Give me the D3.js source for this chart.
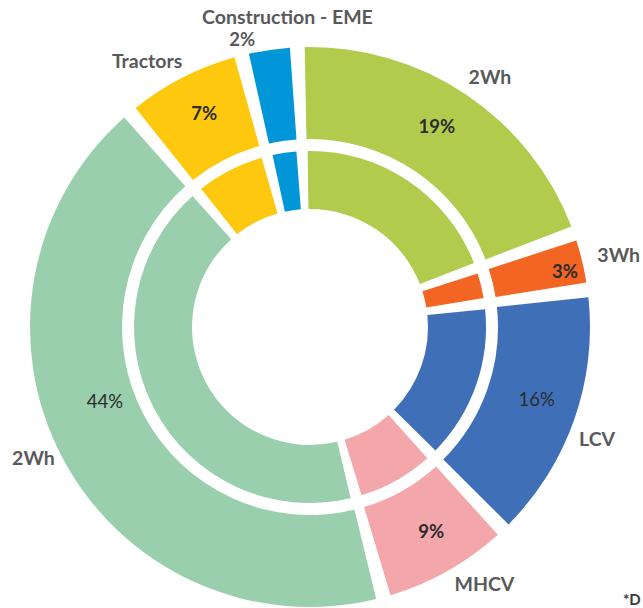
<!DOCTYPE html>
<html>
<head>
    <title>Segment share donut</title>
    <script src="https://d3js.org/d3.v7.min.js"></script>
    <style>
        body { margin: 0; background: #fff; }
        text { font-family: Lato, "DejaVu Sans", sans-serif; }
    </style>
</head>
<body>
    <svg id="chart"></svg>
    <script>
        // segments, clockwise from 12 o'clock
        const categories = ["2Wh", "3Wh", "LCV", "MHCV", "2Wh", "Tractors", "Construction - EME"];
        // share of the circle as drawn in the picture
        const shares = [20.3, 3.3, 15.0, 7.9, 43.1, 7.2, 3.2];
        // percentages printed on the chart
        const pctLabels = ["19%", "3%", "16%", "9%", "44%", "7%", "2%"];

        const colors = ["#b1cb4c", "#f26522", "#3f70b7", "#f4a7ab", "#99cfac", "#fec80f", "#0096d7"];

        const width = 643, height = 608;
        const cx = 310, cy = 327;
        const deg = Math.PI / 180;
        const start = -2.6 * deg;

        const svg = d3.select('#chart')
            .attr('width', width)
            .attr('height', height);

        const g = svg.append('g')
            .attr('transform', `translate(${cx},${cy})`);

        const pie = d3.pie()
            .sort(null)
            .value(d => d)
            .startAngle(start)
            .endAngle(start + 2 * Math.PI);

        const slices = pie(shares);

        // the gaps between slices open up towards the outside, so pad by angle
        function ring(r0, r1, pad) {
            return d3.arc()
                .innerRadius(r0)
                .outerRadius(r1)
                .startAngle(d => d.startAngle + pad / 2)
                .endAngle(d => d.endAngle - pad / 2);
        }

        const rings = [
            { arc: ring(118, 176, 0.064) },
            { arc: ring(188, 280, 0.053) }
        ];

        rings.forEach(rg => {
            g.append('g')
                .selectAll('path')
                .data(slices)
                .join('path')
                .attr('d', rg.arc)
                .attr('fill', (d, i) => colors[i]);
        });

        function polar(a, r) {
            return [r * Math.sin(a), -r * Math.cos(a)];
        }

        // label placement: nudges in degrees and radii
        const nameNudge = [1.8, 0.4, 1.9, -4.7, 2.3, -4.4, 4.2];
        const nameR = [308, 317, 308, 311, 306, 312, 311];
        const pctNudge = [-1.6, 1.3, -1.6, -1.2, 7.8, 0.7, -4.9];
        const pctR = [237, 261, 238, 238, 218, 238, 296];
        const pctWeight = [700, 700, 400, 700, 400, 700, 700];

        g.append('g')
            .selectAll('text')
            .data(slices)
            .join('text')
            .attr('transform', (d, i) => {
                const mid = (d.startAngle + d.endAngle) / 2 + nameNudge[i] * deg;
                const [x, y] = polar(mid, nameR[i]);
                return `translate(${x},${y})`;
            })
            .attr('text-anchor', 'middle')
            .attr('dy', '0.36em')
            .attr('font-size', '19.5px')
            .attr('font-weight', 700)
            .attr('fill', '#58595b')
            .text((d, i) => categories[i]);

        g.append('g')
            .selectAll('text')
            .data(slices)
            .join('text')
            .attr('transform', (d, i) => {
                const mid = (d.startAngle + d.endAngle) / 2 + pctNudge[i] * deg;
                const [x, y] = polar(mid, pctR[i]);
                return `translate(${x},${y})`;
            })
            .attr('text-anchor', 'middle')
            .attr('dy', '0.36em')
            .attr('font-size', '18.5px')
            .attr('font-weight', (d, i) => pctWeight[i])
            .attr('fill', (d, i) => i === 6 ? '#58595b' : '#2b2b2b')
            .text((d, i) => pctLabels[i]);

        // footnote in the bottom right corner
        svg.append('text')
            .attr('x', 623)
            .attr('y', 605)
            .attr('font-size', '15px')
            .attr('font-weight', 700)
            .attr('fill', '#3a3a3a')
            .text('*D');
    </script>
</body>
</html>
